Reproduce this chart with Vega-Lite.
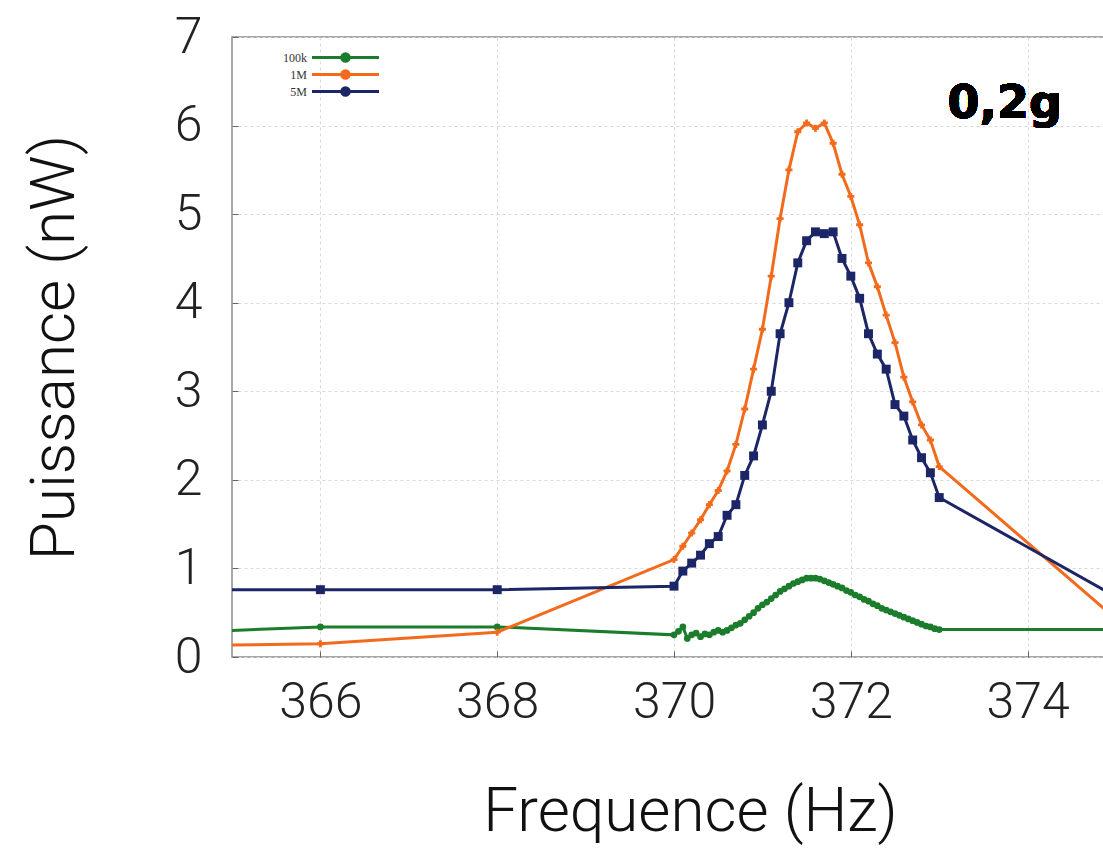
{
  "$schema": "https://vega.github.io/schema/vega-lite/v6.json",
  "width": 872,
  "height": 620,
  "autosize": {"type": "none"},
  "padding": {"left": 232, "top": 37, "right": 0, "bottom": 206},
  "background": "white",
  "config": {
    "view": {"stroke": "#8c8c8c", "strokeWidth": 1.5},
    "font": "Roboto",
    "axis": {
      "labelFont": "Roboto",
      "titleFont": "Roboto",
      "labelFontSize": 50,
      "titleFontSize": 62,
      "labelFontWeight": 300,
      "titleFontWeight": 300,
      "labelColor": "#222222",
      "titleColor": "#111111",
      "domain": false,
      "grid": true,
      "gridColor": "#d9d9d9",
      "gridDash": [3, 3],
      "gridWidth": 1,
      "ticks": true,
      "tickSize": -6,
      "tickColor": "#666666",
      "labelOverlap": false,
      "labelFlush": false
    }
  },
  "datasets": {
    "series": [
      {"f": 364, "p": 0.26, "s": "100k"},
      {"f": 366, "p": 0.34, "s": "100k"},
      {"f": 368, "p": 0.34, "s": "100k"},
      {"f": 370, "p": 0.25, "s": "100k"},
      {"f": 370.05, "p": 0.29, "s": "100k"},
      {"f": 370.1, "p": 0.34, "s": "100k"},
      {"f": 370.15, "p": 0.21, "s": "100k"},
      {"f": 370.2, "p": 0.25, "s": "100k"},
      {"f": 370.25, "p": 0.27, "s": "100k"},
      {"f": 370.3, "p": 0.23, "s": "100k"},
      {"f": 370.35, "p": 0.26, "s": "100k"},
      {"f": 370.4, "p": 0.25, "s": "100k"},
      {"f": 370.45, "p": 0.28, "s": "100k"},
      {"f": 370.5, "p": 0.3, "s": "100k"},
      {"f": 370.55, "p": 0.28, "s": "100k"},
      {"f": 370.6, "p": 0.3, "s": "100k"},
      {"f": 370.65, "p": 0.33, "s": "100k"},
      {"f": 370.7, "p": 0.36, "s": "100k"},
      {"f": 370.75, "p": 0.38, "s": "100k"},
      {"f": 370.8, "p": 0.42, "s": "100k"},
      {"f": 370.85, "p": 0.46, "s": "100k"},
      {"f": 370.9, "p": 0.5, "s": "100k"},
      {"f": 370.95, "p": 0.55, "s": "100k"},
      {"f": 371.0, "p": 0.59, "s": "100k"},
      {"f": 371.05, "p": 0.62, "s": "100k"},
      {"f": 371.1, "p": 0.66, "s": "100k"},
      {"f": 371.15, "p": 0.7, "s": "100k"},
      {"f": 371.2, "p": 0.74, "s": "100k"},
      {"f": 371.25, "p": 0.77, "s": "100k"},
      {"f": 371.3, "p": 0.8, "s": "100k"},
      {"f": 371.35, "p": 0.83, "s": "100k"},
      {"f": 371.4, "p": 0.85, "s": "100k"},
      {"f": 371.45, "p": 0.87, "s": "100k"},
      {"f": 371.5, "p": 0.89, "s": "100k"},
      {"f": 371.55, "p": 0.89, "s": "100k"},
      {"f": 371.6, "p": 0.89, "s": "100k"},
      {"f": 371.65, "p": 0.88, "s": "100k"},
      {"f": 371.7, "p": 0.86, "s": "100k"},
      {"f": 371.75, "p": 0.84, "s": "100k"},
      {"f": 371.8, "p": 0.82, "s": "100k"},
      {"f": 371.85, "p": 0.8, "s": "100k"},
      {"f": 371.9, "p": 0.78, "s": "100k"},
      {"f": 371.95, "p": 0.75, "s": "100k"},
      {"f": 372.0, "p": 0.73, "s": "100k"},
      {"f": 372.05, "p": 0.7, "s": "100k"},
      {"f": 372.1, "p": 0.68, "s": "100k"},
      {"f": 372.15, "p": 0.65, "s": "100k"},
      {"f": 372.2, "p": 0.63, "s": "100k"},
      {"f": 372.25, "p": 0.6, "s": "100k"},
      {"f": 372.3, "p": 0.58, "s": "100k"},
      {"f": 372.35, "p": 0.55, "s": "100k"},
      {"f": 372.4, "p": 0.53, "s": "100k"},
      {"f": 372.45, "p": 0.51, "s": "100k"},
      {"f": 372.5, "p": 0.49, "s": "100k"},
      {"f": 372.55, "p": 0.47, "s": "100k"},
      {"f": 372.6, "p": 0.45, "s": "100k"},
      {"f": 372.65, "p": 0.43, "s": "100k"},
      {"f": 372.7, "p": 0.41, "s": "100k"},
      {"f": 372.75, "p": 0.39, "s": "100k"},
      {"f": 372.8, "p": 0.37, "s": "100k"},
      {"f": 372.85, "p": 0.35, "s": "100k"},
      {"f": 372.9, "p": 0.34, "s": "100k"},
      {"f": 372.95, "p": 0.32, "s": "100k"},
      {"f": 373.0, "p": 0.31, "s": "100k"},
      {"f": 375, "p": 0.31, "s": "100k"},
      {"f": 364, "p": 0.12, "s": "1M"},
      {"f": 366, "p": 0.15, "s": "1M"},
      {"f": 368, "p": 0.28, "s": "1M"},
      {"f": 370, "p": 1.1, "s": "1M"},
      {"f": 370.1, "p": 1.25, "s": "1M"},
      {"f": 370.2, "p": 1.4, "s": "1M"},
      {"f": 370.3, "p": 1.55, "s": "1M"},
      {"f": 370.4, "p": 1.72, "s": "1M"},
      {"f": 370.5, "p": 1.88, "s": "1M"},
      {"f": 370.6, "p": 2.1, "s": "1M"},
      {"f": 370.7, "p": 2.4, "s": "1M"},
      {"f": 370.8, "p": 2.8, "s": "1M"},
      {"f": 370.9, "p": 3.25, "s": "1M"},
      {"f": 371.0, "p": 3.7, "s": "1M"},
      {"f": 371.1, "p": 4.3, "s": "1M"},
      {"f": 371.2, "p": 4.95, "s": "1M"},
      {"f": 371.3, "p": 5.5, "s": "1M"},
      {"f": 371.4, "p": 5.93, "s": "1M"},
      {"f": 371.5, "p": 6.03, "s": "1M"},
      {"f": 371.6, "p": 5.97, "s": "1M"},
      {"f": 371.7, "p": 6.03, "s": "1M"},
      {"f": 371.8, "p": 5.8, "s": "1M"},
      {"f": 371.9, "p": 5.45, "s": "1M"},
      {"f": 372.0, "p": 5.2, "s": "1M"},
      {"f": 372.1, "p": 4.88, "s": "1M"},
      {"f": 372.2, "p": 4.45, "s": "1M"},
      {"f": 372.3, "p": 4.18, "s": "1M"},
      {"f": 372.4, "p": 3.86, "s": "1M"},
      {"f": 372.5, "p": 3.55, "s": "1M"},
      {"f": 372.6, "p": 3.16, "s": "1M"},
      {"f": 372.7, "p": 2.88, "s": "1M"},
      {"f": 372.8, "p": 2.62, "s": "1M"},
      {"f": 372.9, "p": 2.45, "s": "1M"},
      {"f": 373.0, "p": 2.15, "s": "1M"},
      {"f": 375, "p": 0.43, "s": "1M"},
      {"f": 364, "p": 0.76, "s": "5M"},
      {"f": 366, "p": 0.76, "s": "5M"},
      {"f": 368, "p": 0.76, "s": "5M"},
      {"f": 370, "p": 0.8, "s": "5M"},
      {"f": 370.1, "p": 0.97, "s": "5M"},
      {"f": 370.2, "p": 1.06, "s": "5M"},
      {"f": 370.3, "p": 1.15, "s": "5M"},
      {"f": 370.4, "p": 1.28, "s": "5M"},
      {"f": 370.5, "p": 1.36, "s": "5M"},
      {"f": 370.6, "p": 1.6, "s": "5M"},
      {"f": 370.7, "p": 1.72, "s": "5M"},
      {"f": 370.8, "p": 2.05, "s": "5M"},
      {"f": 370.9, "p": 2.27, "s": "5M"},
      {"f": 371.0, "p": 2.62, "s": "5M"},
      {"f": 371.1, "p": 3.0, "s": "5M"},
      {"f": 371.2, "p": 3.65, "s": "5M"},
      {"f": 371.3, "p": 4.0, "s": "5M"},
      {"f": 371.4, "p": 4.45, "s": "5M"},
      {"f": 371.5, "p": 4.7, "s": "5M"},
      {"f": 371.6, "p": 4.8, "s": "5M"},
      {"f": 371.7, "p": 4.78, "s": "5M"},
      {"f": 371.8, "p": 4.8, "s": "5M"},
      {"f": 371.9, "p": 4.5, "s": "5M"},
      {"f": 372.0, "p": 4.3, "s": "5M"},
      {"f": 372.1, "p": 4.05, "s": "5M"},
      {"f": 372.2, "p": 3.65, "s": "5M"},
      {"f": 372.3, "p": 3.42, "s": "5M"},
      {"f": 372.4, "p": 3.25, "s": "5M"},
      {"f": 372.5, "p": 2.85, "s": "5M"},
      {"f": 372.6, "p": 2.72, "s": "5M"},
      {"f": 372.7, "p": 2.45, "s": "5M"},
      {"f": 372.8, "p": 2.25, "s": "5M"},
      {"f": 372.9, "p": 2.08, "s": "5M"},
      {"f": 373.0, "p": 1.8, "s": "5M"},
      {"f": 375, "p": 0.68, "s": "5M"}
    ]
  },
  "data": {"name": "series"},
  "encoding": {
    "x": {
      "field": "f",
      "type": "quantitative",
      "scale": {"domain": [365, 374.864], "nice": false, "zero": false},
      "axis": {"values": [366, 368, 370, 372, 374], "title": "Frequence (Hz)", "labelPadding": 26, "titlePadding": 54, "titleX": 458}
    },
    "y": {
      "field": "p",
      "type": "quantitative",
      "scale": {"domain": [0, 7], "nice": false},
      "axis": {"values": [0, 1, 2, 3, 4, 5, 6, 7], "title": "Puissance (nW)", "labelPadding": 36, "titlePadding": 88}
    }
  },
  "layer": [
    {
      "mark": {"type": "line", "strokeWidth": 3, "clip": true},
      "encoding": {
        "color": {
          "field": "s",
          "type": "nominal",
          "scale": {"domain": ["100k", "1M", "5M"], "range": ["#1b7d2b", "#f26b1d", "#1c2566"]},
          "legend": {
            "title": null,
            "orient": "none",
            "legendX": 107,
            "legendY": 14,
            "symbolType": "M-6.7,0H6.7M0.75,0A0.75,0.75,0,1,1,-0.75,0A0.75,0.75,0,1,1,0.75,0Z",
            "symbolSize": 100,
            "symbolStrokeWidth": 3,
            "labelAlign": "right",
            "labelOffset": -45,
            "labelFont": "Liberation Serif",
            "labelFontSize": 12,
            "labelColor": "#333333",
            "rowPadding": -8,
            "encode": {"symbols": {"update": {"fill": {"scale": "color", "field": "value"}}}}
          }
        }
      }
    },
    {
      "transform": [{"filter": "datum.s === '100k'"}],
      "mark": {"type": "point", "shape": "circle", "filled": true, "size": 45, "opacity": 1, "clip": true},
      "encoding": {"color": {"field": "s", "type": "nominal"}}
    },
    {
      "transform": [{"filter": "datum.s === '1M'"}],
      "mark": {"type": "point", "shape": "cross", "filled": true, "size": 50, "opacity": 1, "clip": true},
      "encoding": {"color": {"field": "s", "type": "nominal"}}
    },
    {
      "transform": [{"filter": "datum.s === '5M'"}],
      "mark": {"type": "point", "shape": "square", "filled": true, "size": 80, "opacity": 1, "clip": true},
      "encoding": {"color": {"field": "s", "type": "nominal"}}
    },
    {
      "mark": {"type": "text", "font": "DejaVu Sans", "fontWeight": "bold", "fontSize": 46, "color": "#000000", "align": "center", "baseline": "alphabetic"},
      "encoding": {
        "x": {"datum": 373.74},
        "y": {"datum": 6.08},
        "text": {"value": "0,2g"}
      }
    }
  ]
}
